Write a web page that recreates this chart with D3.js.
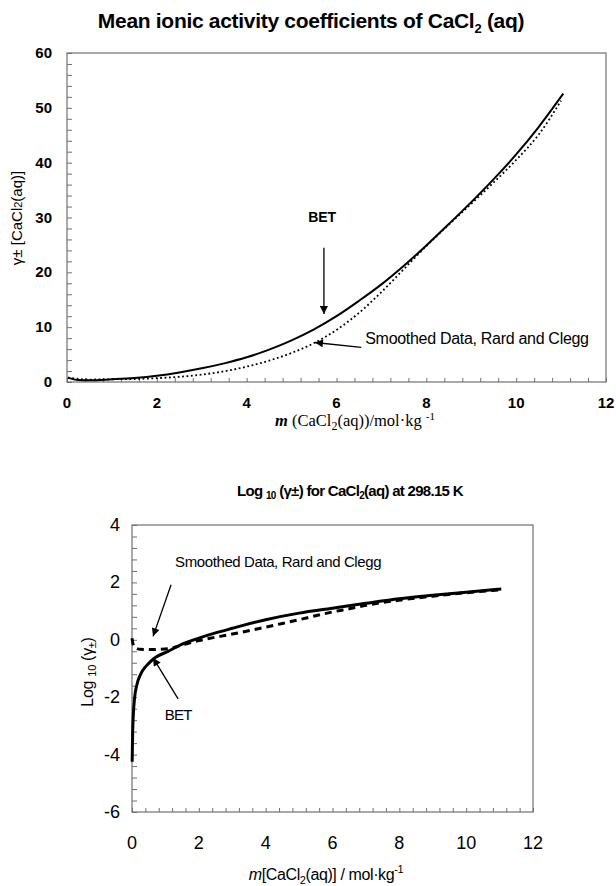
<!DOCTYPE html>
<html>
<head>
<meta charset="utf-8">
<script src="https://cdn.jsdelivr.net/npm/d3@7"></script>
<style>
  body { margin: 0; background: #fff; }
  svg { display: block; }
  text { fill: #000; }
</style>
</head>
<body>
<svg width="616" height="886"></svg>
<script>
// top panel: gamma± vs molality
const betM = [0.02, 0.25, 0.5, 1, 1.5, 2, 2.5, 3, 3.5, 4, 4.5, 5, 5.5, 6, 6.5, 7, 7.5, 8, 8.5, 9, 9.5, 10, 10.5, 11.05];
const betGamma = [0.8, 0.35, 0.3, 0.5, 0.75, 1.15, 1.75, 2.5, 3.4, 4.5, 5.9, 7.6, 9.6, 12.0, 14.8, 17.8, 21.2, 24.9, 28.8, 32.8, 37.0, 41.5, 46.5, 52.6];
const smoothM = [0.02, 0.5, 1, 1.5, 2, 2.5, 3, 3.5, 4, 4.5, 5, 5.5, 6, 6.5, 7, 7.5, 8, 8.5, 9, 9.5, 10, 10.5, 11];
const smoothGamma = [0.8, 0.45, 0.5, 0.55, 0.7, 0.95, 1.35, 1.95, 2.8, 3.9, 5.3, 7.1, 9.5, 12.6, 16.4, 20.6, 24.8, 28.7, 32.5, 36.4, 40.5, 45.1, 51.3];

// bottom panel: log10(gamma±) vs molality
const logBetM = [0.005, 0.02, 0.04, 0.08, 0.15, 0.25, 0.33, 0.5, 0.65, 0.8, 1.05, 1.5, 2, 2.5, 3, 4, 5, 6, 7, 8, 9, 10, 11.05];
const logBet = [-4.25, -3.2, -2.6, -2.0, -1.55, -1.22, -1.05, -0.82, -0.66, -0.55, -0.42, -0.15, 0.06, 0.24, 0.4, 0.7, 0.93, 1.1, 1.27, 1.43, 1.55, 1.66, 1.77];
const logSmoothM = [0, 0.04, 0.1, 0.25, 0.5, 0.8, 1.1, 1.45, 2, 3, 4, 4.5, 5, 5.5, 6, 6.5, 7, 8, 9, 10, 11];
const logSmooth = [0.05, -0.18, -0.28, -0.33, -0.34, -0.33, -0.31, -0.2, -0.03, 0.2, 0.44, 0.57, 0.7, 0.84, 0.97, 1.08, 1.2, 1.38, 1.52, 1.64, 1.74];

const topXTicks = [0, 2, 4, 6, 8, 10, 12];
const topYTicks = [0, 10, 20, 30, 40, 50, 60];
const botXTicks = [0, 2, 4, 6, 8, 10, 12];
const botYTicks = [-6, -4, -2, 0, 2, 4];

const svg = d3.select("svg");
const sans = "'Liberation Sans', Arial, sans-serif";
const serif = "'Liberation Serif', 'Times New Roman', serif";
const frameColor = "#707070";

svg.append("defs").append("marker")
  .attr("id", "head").attr("viewBox", "0 0 10 10")
  .attr("refX", 10).attr("refY", 5)
  .attr("markerWidth", 11).attr("markerHeight", 8)
  .attr("markerUnits", "userSpaceOnUse")
  .attr("orient", "auto")
  .append("path").attr("d", "M0,0L10,5L0,10z").attr("fill", "#000");

function frame(x, y, minorX, minorY) {
  const [x0, x1] = x.range(), [y0, y1] = y.range();
  const g = svg.append("g");
  g.append("g").attr("transform", `translate(0,${y0})`)
    .call(d3.axisBottom(x).tickValues(minorX).tickSize(-4).tickFormat(""))
    .call(a => a.select(".domain").remove())
    .selectAll("line").attr("stroke", frameColor);
  g.append("g").attr("transform", `translate(${x0},0)`)
    .call(d3.axisLeft(y).tickValues(minorY).tickSize(-5).tickFormat(""))
    .call(a => a.select(".domain").remove())
    .selectAll("line").attr("stroke", frameColor);
  g.append("rect")
    .attr("x", x0).attr("y", y1).attr("width", x1 - x0).attr("height", y0 - y1)
    .attr("fill", "none").attr("stroke", frameColor).attr("stroke-width", 1.2);
}

function arrow(x, y, from, to) {
  svg.append("line")
    .attr("x1", x(from[0])).attr("y1", y(from[1]))
    .attr("x2", x(to[0])).attr("y2", y(to[1]))
    .attr("stroke", "#000").attr("stroke-width", 1.3)
    .attr("marker-end", "url(#head)");
}

// ---------- top chart ----------
const x1 = d3.scaleLinear().domain([0, 12]).range([67, 606]);
const y1 = d3.scaleLinear().domain([0, 60]).range([382, 53]);

svg.append("text").attr("x", 311).attr("y", 28).attr("text-anchor", "middle")
  .style("font-family", sans).style("font-size", "21px").style("font-weight", "bold")
  .style("letter-spacing", "-0.3px")
  .call(t => {
    t.append("tspan").text("Mean ionic activity coefficients of CaCl");
    t.append("tspan").attr("dy", 5).style("font-size", "13px").text("2");
    t.append("tspan").attr("dy", -5).text(" (aq)");
  });

frame(x1, y1, d3.range(0, 12.001, 0.4), d3.range(0, 60.001, 2));

svg.append("g").selectAll("text").data(topXTicks).join("text")
  .attr("x", d => x1(d)).attr("y", 408).attr("text-anchor", "middle")
  .style("font-family", sans).style("font-size", "15px").style("font-weight", "bold")
  .text(d => d);
svg.append("g").selectAll("text").data(topYTicks).join("text")
  .attr("x", 52).attr("y", d => y1(d) + 5).attr("text-anchor", "end")
  .style("font-family", sans).style("font-size", "15px").style("font-weight", "bold")
  .text(d => d);

svg.append("text").attr("transform", "translate(22,218) rotate(-90)").attr("text-anchor", "middle")
  .style("font-family", sans).style("font-size", "15px")
  .call(t => {
    t.append("tspan").text("γ± [CaCl");
    t.append("tspan").style("font-size", "11px").text("2");
    t.append("tspan").text("(aq)]");
  });

svg.append("text").attr("x", 355).attr("y", 426).attr("text-anchor", "middle")
  .style("font-family", serif).style("font-size", "16.5px")
  .call(t => {
    t.append("tspan").style("font-style", "italic").style("font-weight", "bold").text("m");
    t.append("tspan").text(" (CaCl");
    t.append("tspan").attr("dy", 4).style("font-size", "12px").text("2");
    t.append("tspan").attr("dy", -4).text("(aq))/mol·kg ");
    t.append("tspan").attr("dy", -6).style("font-size", "11px").text("-1");
  });

const line1 = d3.line().x(d => x1(d[0])).y(d => y1(d[1])).curve(d3.curveMonotoneX);
svg.append("path").datum(smoothM.map((m, i) => [m, smoothGamma[i]]))
  .attr("d", line1).attr("fill", "none").attr("stroke", "#000")
  .attr("stroke-width", 1.8).attr("stroke-dasharray", "1.8,2.6");
svg.append("path").datum(betM.map((m, i) => [m, betGamma[i]]))
  .attr("d", line1).attr("fill", "none").attr("stroke", "#000").attr("stroke-width", 2);

svg.append("text").attr("x", x1(5.68)).attr("y", y1(29.2)).attr("text-anchor", "middle")
  .style("font-family", sans).style("font-size", "14px").style("font-weight", "bold").text("BET");
arrow(x1, y1, [5.72, 24.5], [5.72, 12.4]);
svg.append("text").attr("x", x1(6.64)).attr("y", y1(6.9))
  .style("font-family", sans).style("font-size", "16px").style("letter-spacing", "-0.3px")
  .text("Smoothed Data, Rard and Clegg");
arrow(x1, y1, [6.55, 6.3], [5.52, 7.2]);

// ---------- bottom chart ----------
const x2 = d3.scaleLinear().domain([0, 12]).range([132, 533]);
const y2 = d3.scaleLinear().domain([-6, 4]).range([812, 525]);

svg.append("text").attr("x", 350).attr("y", 496).attr("text-anchor", "middle")
  .style("font-family", sans).style("font-size", "15px").style("font-weight", "bold")
  .style("letter-spacing", "-0.7px")
  .call(t => {
    t.append("tspan").text("Log ");
    t.append("tspan").attr("dy", 3).style("font-size", "10px").text("10");
    t.append("tspan").attr("dy", -3).text(" (γ±) for CaCl");
    t.append("tspan").attr("dy", 3).style("font-size", "10px").text("2");
    t.append("tspan").attr("dy", -3).text("(aq) at 298.15 K");
  });

frame(x2, y2, d3.range(0, 12.001, 0.4), d3.range(-6, 4.001, 0.4));

svg.append("g").selectAll("text").data(botXTicks).join("text")
  .attr("x", d => x2(d)).attr("y", 849).attr("text-anchor", "middle")
  .style("font-family", sans).style("font-size", "18px")
  .text(d => d);
svg.append("g").selectAll("text").data(botYTicks).join("text")
  .attr("x", 120).attr("y", d => y2(d) + 6).attr("text-anchor", "end")
  .style("font-family", sans).style("font-size", "18px")
  .text(d => d);

svg.append("text").attr("transform", "translate(93,672) rotate(-90)").attr("text-anchor", "middle")
  .style("font-family", sans).style("font-size", "16px").style("letter-spacing", "-0.3px")
  .call(t => {
    t.append("tspan").text("Log ");
    t.append("tspan").attr("dy", 3).style("font-size", "11px").text("10");
    t.append("tspan").attr("dy", -3).text(" (γ");
    t.append("tspan").attr("dy", 3).style("font-size", "11px").text("±");
    t.append("tspan").attr("dy", -3).text(")");
  });

svg.append("text").attr("x", 326).attr("y", 880).attr("text-anchor", "middle")
  .style("font-family", sans).style("font-size", "16px").style("letter-spacing", "-0.4px")
  .call(t => {
    t.append("tspan").style("font-style", "italic").text("m");
    t.append("tspan").text("[CaCl");
    t.append("tspan").attr("dy", 4).style("font-size", "11px").text("2");
    t.append("tspan").attr("dy", -4).text("(aq)] / mol·kg");
    t.append("tspan").attr("dy", -7).style("font-size", "11px").text("-1");
  });

const line2 = d3.line().x(d => x2(d[0])).y(d => y2(d[1])).curve(d3.curveMonotoneX);
svg.append("path").datum(logSmoothM.map((m, i) => [m, logSmooth[i]]))
  .attr("d", line2).attr("fill", "none").attr("stroke", "#000")
  .attr("stroke-width", 3).attr("stroke-dasharray", "7,5");
svg.append("path").datum(logBetM.map((m, i) => [m, logBet[i]]))
  .attr("d", line2).attr("fill", "none").attr("stroke", "#000").attr("stroke-width", 3);

svg.append("text").attr("x", x2(1.29)).attr("y", y2(2.55))
  .style("font-family", sans).style("font-size", "15px").style("letter-spacing", "-0.4px")
  .text("Smoothed Data, Rard and Clegg");
arrow(x2, y2, [1.17, 1.92], [0.63, 0.12]);
svg.append("text").attr("x", x2(1.38)).attr("y", y2(-2.8)).attr("text-anchor", "middle")
  .style("font-family", sans).style("font-size", "15px").style("letter-spacing", "-0.8px")
  .text("BET");
arrow(x2, y2, [1.38, -2.06], [0.63, -0.63]);
</script>
</body>
</html>
